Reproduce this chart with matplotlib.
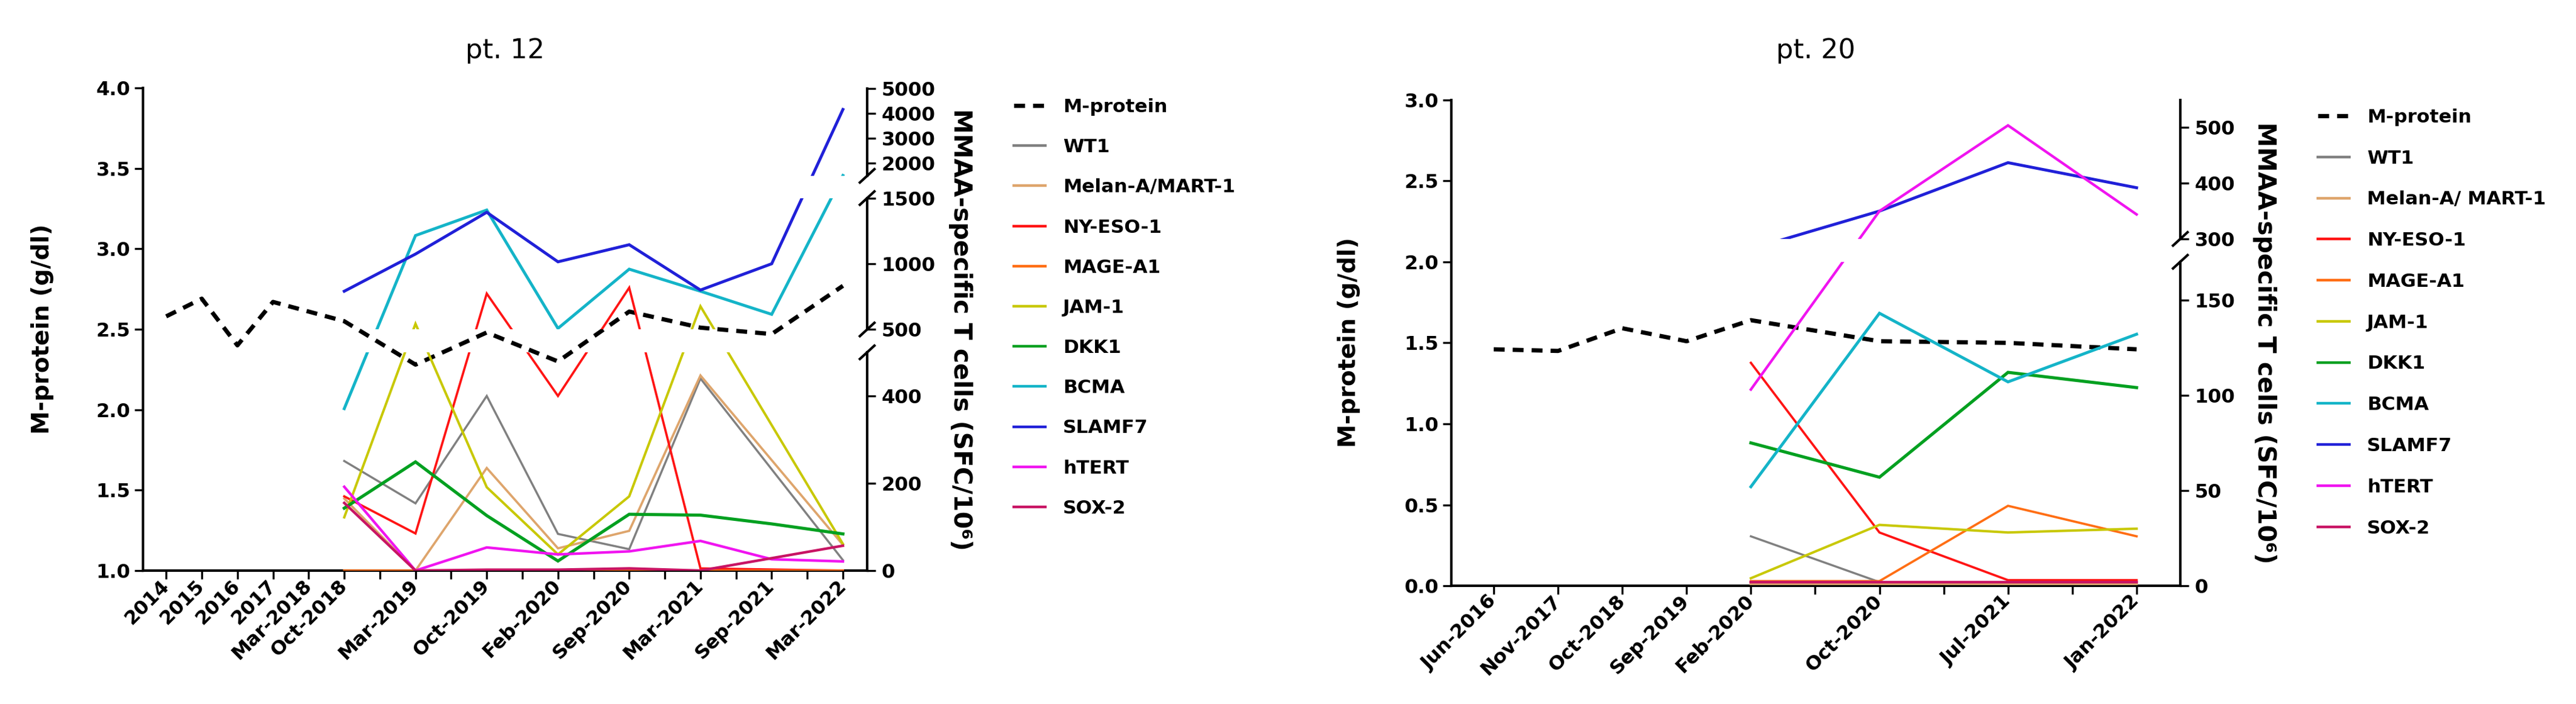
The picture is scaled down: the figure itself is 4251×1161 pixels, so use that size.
import numpy as np
import matplotlib.pyplot as plt
from matplotlib.lines import Line2D
from matplotlib.transforms import ScaledTranslation

plt.rcParams['font.family'] = ['DejaVu Sans']
plt.rcParams['font.weight'] = 'bold'

W, H, DPI = 4251, 1161, 100

antigens = ["WT1", "Melan-A/MART-1", "NY-ESO-1", "MAGE-A1", "JAM-1",
            "DKK1", "BCMA", "SLAMF7", "hTERT", "SOX-2"]
colors = ['#808080', '#dea56c', '#ff1414', '#ff6e14', '#c8c800',
          '#00a020', '#14b4c8', '#2020d8', '#f014f0', '#c81464']
widths = [2.5, 2.7, 2.7, 2.7, 2.9, 3.7, 3.5, 3.5, 3.1, 3.1]

# ---- pt. 12 ----
p12_ticklabels = ["2014", "2015", "2016", "2017", "Mar-2018", "Oct-2018", "",
                  "Mar-2019", "", "Oct-2019", "", "Feb-2020", "", "Sep-2020", "",
                  "Mar-2021", "", "Sep-2021", "", "Mar-2022"]
p12_mprot_x = [0, 1, 2, 3, 4, 5, 7, 9, 11, 13, 15, 17, 19]
p12_mprot = [2.58, 2.69, 2.40, 2.67, 2.61, 2.55, 2.28, 2.48, 2.30, 2.61, 2.51, 2.47, 2.77]
p12_x = [5, 7, 9, 11, 13, 15, 17, 19]
p12_wt1 = [251, 154, 400, 84, 49, 440, None, 24]
p12_melan = [165, 0, 235, 51, 91, 447, None, 59]
p12_nyeso = [170, 85, 773, 400, 818, 5, None, 0]
p12_mage = [0, 0, 0, 0, 0, 0, 0, 0]
p12_jam = [122, 543, 191, 37, 170, 676, None, 61]
p12_dkk = [143, 249, 126, 22, 129, 127, 107, 84]
p12_bcma = [371, 1215, 1409, 508, 959, 791, 615, 1516]
p12_slamf = [791, 1074, 1392, 1015, 1145, 800, 1000, 4161]
p12_htert = [192, 0, 53, 37, 44, 68, 26, 21]
p12_sox = [155, 0, 2, 2, 5, 0, None, 57]
p12_series = [p12_wt1, p12_melan, p12_nyeso, p12_mage, p12_jam,
              p12_dkk, p12_bcma, p12_slamf, p12_htert, p12_sox]

# ---- pt. 20 ----
p20_ticklabels = ["Jun-2016", "Nov-2017", "Oct-2018", "Sep-2019", "Feb-2020", "",
                  "Oct-2020", "", "Jul-2021", "", "Jan-2022"]
p20_mprot_x = [0, 1, 2, 3, 4, 6, 8, 10]
p20_mprot = [1.46, 1.45, 1.59, 1.51, 1.64, 1.51, 1.50, 1.46]
p20_x = [4, 6, 8, 10]
p20_wt1 = [26, 2, 1, 1]
p20_melan = [1, 1, 1, 1]
p20_nyeso = [117, 28, 3, 3]
p20_mage = [2.5, 2.5, 42, 26]
p20_jam = [4, 32, 28, 30]
p20_dkk = [75, 57, 112, 104]
p20_bcma = [52, 143, 107, 132]
p20_slamf = [243, 350, 437, 392]
p20_htert = [103, 350, 504, 344]
p20_sox = [2, 2, 2, 2]
p20_series = [p20_wt1, p20_melan, p20_nyeso, p20_mage, p20_jam,
              p20_dkk, p20_bcma, p20_slamf, p20_htert, p20_sox]

fig = plt.figure(figsize=(W / DPI, H / DPI), dpi=DPI)


def box(left, top, right, bottom):
    return [left / W, 1 - bottom / H, (right - left) / W, (bottom - top) / H]


def slash(x, y):
    # little "/" mark where the right axis is broken
    fig.add_artist(Line2D([(x - 12) / W, (x + 12) / W], [1 - (y + 11) / H, 1 - (y - 11) / H],
                          color='black', lw=3, transform=fig.transFigure))


def panel(frame, xlim, ticklabels, mlim, mticks, mx, my, sx, series,
          bvals, bpx, segs, seg_ticks, seg_labels, title, legend_xy, leg_space, names):
    left, top, right, bottom = frame
    ax = fig.add_axes(box(left, top, right, bottom))
    ax.plot(mx, my, color='black', lw=5, dashes=(2.6, 1.9), zorder=3)
    ax.set_xlim(*xlim)
    ax.set_ylim(*mlim)
    ax.set_yticks(mticks)
    ax.set_yticklabels([f'{t:.1f}' for t in mticks])
    ax.set_xticks(range(len(ticklabels)))
    ax.set_xticklabels(ticklabels, rotation=45, ha='right', va='center',
                       rotation_mode='anchor')
    for lab in ax.get_xticklabels():
        lab.set_transform(lab.get_transform() + ScaledTranslation(0.06, -0.06, fig.dpi_scale_trans))
    for s in ['top', 'right']:
        ax.spines[s].set_visible(False)
    for s in ['left', 'bottom']:
        ax.spines[s].set_linewidth(3)
    ax.tick_params(width=2.4, length=10, labelsize=23, pad=5)
    fig.text((left + right) / 2 / W, 1 - 96 / H, title, fontsize=32,
             fontweight='normal', ha='center', va='baseline')

    up = H - np.asarray(bpx, float)
    fwd = lambda v: np.interp(v, bvals, up)
    inv = lambda u: np.interp(u, up, bvals)
    for k, (i0, i1) in enumerate(segs):
        sa = fig.add_axes(box(left, bpx[i1], right, bpx[i0]))
        sa.set_yscale('function', functions=(fwd, inv))
        sa.set_xlim(*xlim)
        sa.set_ylim(bvals[i0], bvals[i1])
        sa.patch.set_visible(False)
        for s in ['top', 'left', 'bottom']:
            sa.spines[s].set_visible(False)
        sa.spines['right'].set_linewidth(3)
        sa.xaxis.set_visible(False)
        sa.yaxis.tick_right()
        sa.set_yticks(seg_ticks[k])
        sa.set_yticklabels(seg_labels[k])
        sa.tick_params(width=2.4, length=10, labelsize=23, pad=7)
        for vals, c, lw in zip(series, colors, widths):
            pts = [(x, v) for x, v in zip(sx, vals) if v is not None]
            xs = [p[0] for p in pts]
            vs = [p[1] for p in pts]
            sa.plot(xs, vs, color=c, lw=lw, solid_joinstyle='miter')
        if i0 > 0:
            slash(right, bpx[i0])
        if i1 < len(bvals) - 1:
            slash(right, bpx[i1])

    handles = [Line2D([], [], color='black', lw=5, dashes=(2.6, 1.9))]
    handles += [Line2D([], [], color=c, lw=3.2) for c in colors]
    fig.legend(handles, ["M-protein"] + names, loc='upper left',
               bbox_to_anchor=(legend_xy[0] / W, 1 - legend_xy[1] / H),
               frameon=False, fontsize=22.5, handlelength=1.65, handletextpad=0.95,
               labelspacing=leg_space, borderpad=0, borderaxespad=0)
    return ax


# pt. 12
panel((236, 145, 1431, 941), (-0.65, 19.68), p12_ticklabels, (1.0, 4.0),
      [1.0, 1.5, 2.0, 2.5, 3.0, 3.5, 4.0], p12_mprot_x, p12_mprot, p12_x, p12_series,
      [0, 500, 500.001, 1500, 1500.001, 5000], [941, 581, 543.3, 326.7, 290, 146],
      [(0, 1), (2, 3), (4, 5)],
      [[0, 200, 400], [500.001, 1000, 1500], [2000, 3000, 4000, 5000]],
      [['0', '200', '400'], ['500', '1000', '1500'], ['2000', '3000', '4000', '5000']],
      'pt. 12', (1673, 162), 1.19, antigens)
fig.text(70 / W, 1 - 543 / H, 'M-protein (g/dl)', rotation=90, ha='center', va='center', fontsize=28)
fig.text(1585 / W, 1 - 543 / H, 'MMAA-specific T cells (SFC/10\u2076)', rotation=-90,
         ha='center', va='center', fontsize=29.5)

# pt. 20
names20 = list(antigens)
names20[1] = "Melan-A/ MART-1"
panel((2395, 164.6, 3598, 966.2), (-0.66, 10.68), p20_ticklabels, (0.0, 3.0),
      [0.0, 0.5, 1.0, 1.5, 2.0, 2.5, 3.0], p20_mprot_x, p20_mprot, p20_x, p20_series,
      [0, 170, 300, 550], [966.2, 431.7, 394, 164.6],
      [(0, 1), (2, 3)],
      [[0, 50, 100, 150], [300, 400, 500]],
      [['0', '50', '100', '150'], ['300', '400', '500']],
      'pt. 20', (3825, 179), 1.24, names20)
fig.text(2226 / W, 1 - 565 / H, 'M-protein (g/dl)', rotation=90, ha='center', va='center', fontsize=28)
fig.text(3737 / W, 1 - 565 / H, 'MMAA-specific T cells (SFC/10\u2076)', rotation=-90,
         ha='center', va='center', fontsize=29.5)

fig.savefig('out.png', dpi=DPI)
